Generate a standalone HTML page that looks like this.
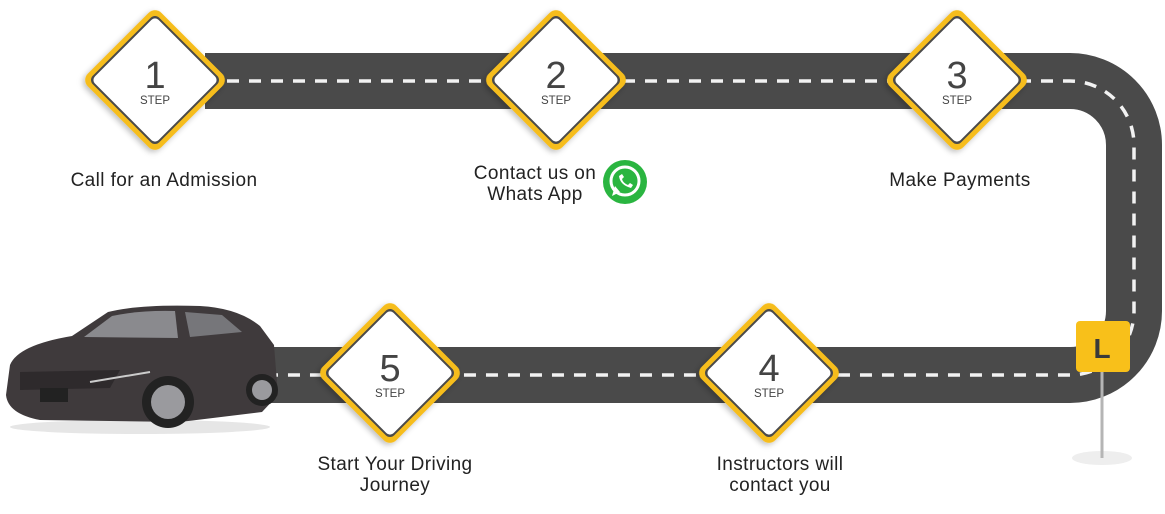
<!DOCTYPE html>
<html><head><meta charset="utf-8"><style>
html,body{margin:0;padding:0;background:#fff;width:1165px;height:514px;overflow:hidden}
.t{position:absolute;font-family:"Liberation Sans",sans-serif;font-size:19px;color:#222;text-align:center;line-height:21px;letter-spacing:0.4px}
</style></head><body>
<svg width="1165" height="514" style="position:absolute;left:0;top:0">
<defs>
<filter id="sh" x="-30%" y="-30%" width="160%" height="160%"><feDropShadow dx="0" dy="3" stdDeviation="3" flood-color="#000" flood-opacity="0.25"/></filter>
<g id="dia">
<rect x="-52" y="-52" width="104" height="104" rx="9" fill="#f6bd1d" transform="rotate(45)" filter="url(#sh)"/>
<rect x="-47" y="-47" width="94" height="94" rx="6" fill="#4a4a4a" transform="rotate(45)"/>
<rect x="-45" y="-45" width="90" height="90" rx="5" fill="#fff" transform="rotate(45)"/>
</g>
</defs>
<path d="M205,81 H1070 A64,64 0 0 1 1134,145 V311 A64,64 0 0 1 1070,375 H250" fill="none" stroke="#4a4a4a" stroke-width="56"/>
<path d="M205,81 H1070 A64,64 0 0 1 1134,145 V311 A64,64 0 0 1 1070,375 H250" fill="none" stroke="#f2f2f2" stroke-width="3.5" stroke-dasharray="12 10"/>
<ellipse cx="1102" cy="458" rx="30" ry="7" fill="#eee"/>
<rect x="1100.5" y="370" width="3" height="88" fill="#b5b5b5"/>
<rect x="1076" y="321" width="54" height="51" rx="4" fill="#f8c01a"/>
<text x="1102" y="358" text-anchor="middle" font-family="Liberation Sans" font-weight="bold" font-size="28" fill="#3a3a3a">L</text>
<g font-family="Liberation Sans" fill="#444" text-anchor="middle">
<g transform="translate(155,80)"><use href="#dia"/><text y="8" font-size="38">1</text><text y="24" font-size="11.5">STEP</text></g>
<g transform="translate(556,80)"><use href="#dia"/><text y="8" font-size="38">2</text><text y="24" font-size="11.5">STEP</text></g>
<g transform="translate(957,80)"><use href="#dia"/><text y="8" font-size="38">3</text><text y="24" font-size="11.5">STEP</text></g>
<g transform="translate(390,373)"><use href="#dia"/><text y="8" font-size="38">5</text><text y="24" font-size="11.5">STEP</text></g>
<g transform="translate(769,373)"><use href="#dia"/><text y="8" font-size="38">4</text><text y="24" font-size="11.5">STEP</text></g>
</g>
<circle cx="625" cy="182" r="22" fill="#2ab540"/>
<circle cx="625" cy="181" r="14" fill="none" stroke="#fff" stroke-width="3"/>
<path d="M612,196 L615,186 L620,192 Z" fill="#fff"/>
<path d="M619,176 q1,9 12,12 l2,-3 l-3,-2 l-2,2 q-5,-2 -6,-6 l2,-2 l-2,-3 Z" fill="#fff"/>
<g>
<ellipse cx="140" cy="427" rx="130" ry="7" fill="#e6e6e6"/>
<path d="M10,365 Q18,345 72,336 L108,312 Q140,304 200,306 Q238,308 260,326 L274,345 L278,395 L262,412 L180,422 L40,420 Q8,414 6,395 Z" fill="#3f3a3c"/>
<path d="M84,337 L112,316 Q140,310 175,311 L178,338 Z" fill="#8a8a8e"/>
<path d="M185,312 L222,315 L242,332 L190,337 Z" fill="#76767a"/>
<path d="M20,372 L120,370 L110,388 L20,390 Z" fill="#2e2a2c"/>
<rect x="40" y="388" width="28" height="14" fill="#222"/>
<circle cx="168" cy="402" r="26" fill="#222"/><circle cx="168" cy="402" r="17" fill="#9a9a9e"/>
<circle cx="262" cy="390" r="16" fill="#222"/><circle cx="262" cy="390" r="10" fill="#9a9a9e"/>
<path d="M90,382 L150,372" stroke="#ccc" stroke-width="2"/>
</g>
</svg>
<div class="t" style="left:44px;top:170px;width:240px">Call for an Admission</div>
<div class="t" style="left:450px;top:163px;width:170px">Contact us on<br>Whats App</div>
<div class="t" style="left:860px;top:170px;width:200px">Make Payments</div>
<div class="t" style="left:285px;top:454px;width:220px">Start Your Driving<br>Journey</div>
<div class="t" style="left:670px;top:454px;width:220px">Instructors will<br>contact you</div>
</body></html>
